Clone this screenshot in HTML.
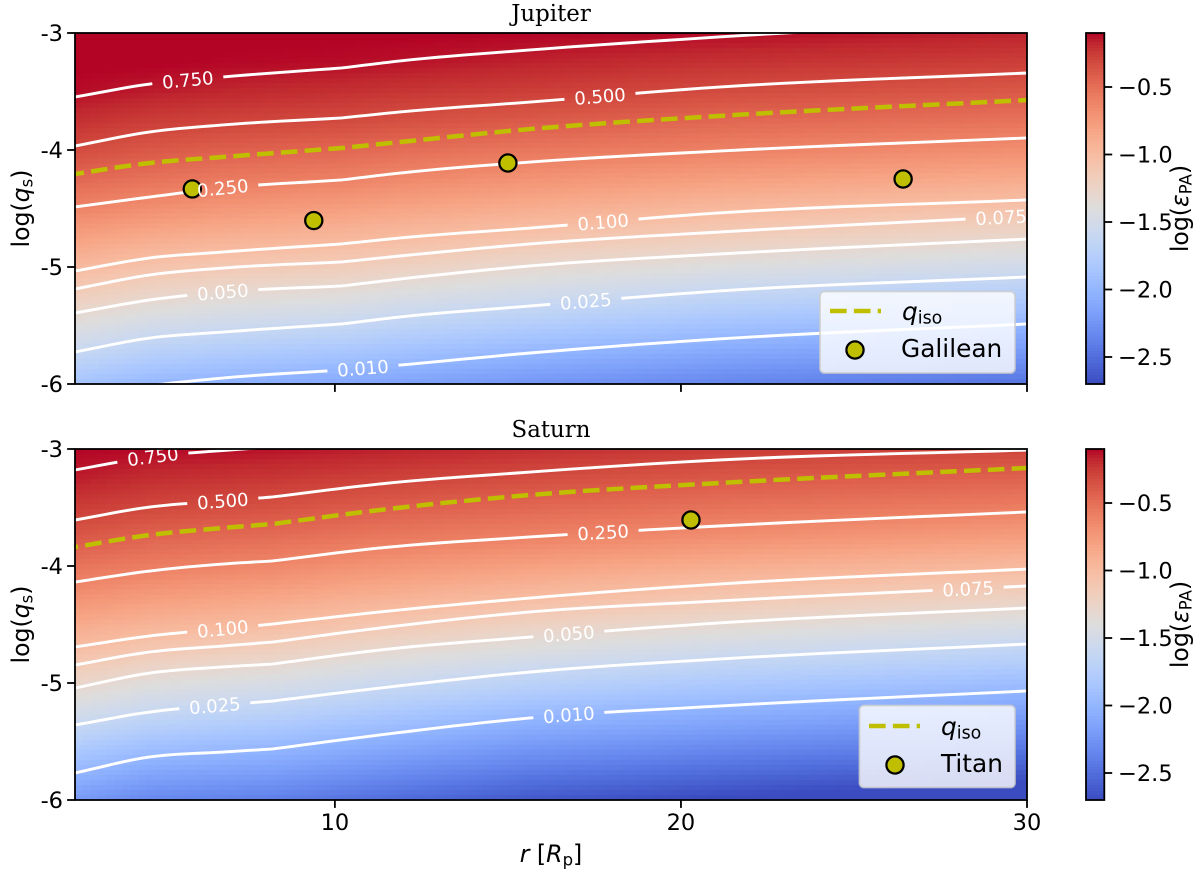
<!DOCTYPE html>
<html lang="en">
<head>
<meta charset="utf-8">
<title>Jupiter and Saturn epsilon PA maps</title>
<style>
html,body{margin:0;padding:0;background:#fff;}
svg{display:block;}
text{font-family:"DejaVu Sans","Liberation Sans",sans-serif;fill:#000;}
.ttl{font-family:"DejaVu Serif","Liberation Serif",serif;font-size:22.9px;text-anchor:middle;}
.ax{font-size:23.6px;text-anchor:middle;}
.leg{font-size:24.8px;}
</style>
</head>
<body>
<svg id="figure" xmlns="http://www.w3.org/2000/svg" width="1200" height="870" viewBox="0 0 1200 870">
  <defs>
    <clipPath id="clip-jupiter"><rect x="75" y="33" width="952" height="351"/></clipPath>
    <clipPath id="clip-saturn"><rect x="75" y="449" width="952" height="351"/></clipPath>
  </defs>
  <rect x="0" y="0" width="1200" height="870" fill="#fff"/>
  <g id="panel-jupiter"></g>
  <g id="panel-saturn"></g>

  <text class="ttl" x="551" y="21">Jupiter</text>
  <text class="ttl" x="551" y="437">Saturn</text>

  <text class="ax" transform="translate(29 208.5) rotate(-90)">log(<tspan font-style="italic">q</tspan><tspan font-size="16.5" dy="3.5">s</tspan><tspan dy="-3.5">)</tspan></text>
  <text class="ax" transform="translate(29 624.5) rotate(-90)">log(<tspan font-style="italic">q</tspan><tspan font-size="16.5" dy="3.5">s</tspan><tspan dy="-3.5">)</tspan></text>
  <text class="ax" x="551" y="862"><tspan font-style="italic">r</tspan> [<tspan font-style="italic">R</tspan><tspan font-size="16.5" dy="3.5">p</tspan><tspan dy="-3.5">]</tspan></text>
  <text class="ax" transform="translate(1188 208.5) rotate(-90)">log(<tspan font-style="italic">ε</tspan><tspan font-size="16.5" dy="3.5">PA</tspan><tspan dy="-3.5">)</tspan></text>
  <text class="ax" transform="translate(1188 624.5) rotate(-90)">log(<tspan font-style="italic">ε</tspan><tspan font-size="16.5" dy="3.5">PA</tspan><tspan dy="-3.5">)</tspan></text>

  <g>
    <rect x="820" y="291.5" width="195" height="81.5" rx="4.5" fill="#fff" fill-opacity="0.8" stroke="#ccc" stroke-opacity="0.8" stroke-width="1.8"/>
    <line x1="830" y1="311" x2="881" y2="311" stroke="#bfbf00" stroke-width="4.5" stroke-dasharray="16.65 7.2"/>
    <text class="leg" x="902" y="320"><tspan font-style="italic">q</tspan><tspan font-size="17.4" dy="3.6">iso</tspan></text>
    <circle cx="855" cy="350" r="8.6" fill="#bfbf00" stroke="#000" stroke-width="2.25"/>
    <text class="leg" x="901" y="357">Galilean</text>
  </g>
  <g>
    <rect x="859.5" y="705.5" width="155.5" height="82" rx="4.5" fill="#fff" fill-opacity="0.8" stroke="#ccc" stroke-opacity="0.8" stroke-width="1.8"/>
    <line x1="869" y1="726" x2="920" y2="726" stroke="#bfbf00" stroke-width="4.5" stroke-dasharray="16.65 7.2"/>
    <text class="leg" x="941" y="735"><tspan font-style="italic">q</tspan><tspan font-size="17.4" dy="3.6">iso</tspan></text>
    <circle cx="895" cy="765" r="8.6" fill="#bfbf00" stroke="#000" stroke-width="2.25"/>
    <text class="leg" x="941" y="772">Titan</text>
  </g>
</svg>

<script>
/* ---------- shared axis values ---------- */
const xTicks = [10, 20, 30];
const xTickLabels = ['10', '20', '30'];
const yTicks = [-3, -4, -5, -6];
const yTickLabels = ['-3', '-4', '-5', '-6'];
const cbarTicks = [-0.5, -1.0, -1.5, -2.0, -2.5];
const cbarTickLabels = ['\u22120.5', '\u22121.0', '\u22121.5', '\u22122.0', '\u22122.5'];
const contourLevels = ['0.750', '0.500', '0.250', '0.100', '0.075', '0.050', '0.025', '0.010'];
const heatLogq = [-3, -3.25, -3.5, -3.75, -4, -4.25, -4.5, -4.75, -5, -5.25, -5.5, -5.75, -6];

/* ---------- Jupiter series ---------- */
const jupiterR = [2.49, 4.65, 6.76, 10.2, 11.88, 15.64, 21.1, 30];
const jupiterC750 = [-3.547, -3.436, -3.376, -3.299, -3.239, -3.145, -3.034, -2.889];
const jupiterC500 = [-3.966, -3.846, -3.786, -3.726, -3.675, -3.590, -3.462, -3.342];
const jupiterC250 = [-4.487, -4.402, -4.325, -4.256, -4.197, -4.103, -4.009, -3.897];
const jupiterC100 = [-5.034, -4.923, -4.872, -4.803, -4.752, -4.667, -4.538, -4.427];
const jupiterC075 = [-5.188, -5.068, -5.009, -4.957, -4.906, -4.803, -4.701, -4.564];
const jupiterC050 = [-5.393, -5.282, -5.214, -5.162, -5.103, -4.991, -4.889, -4.761];
const jupiterC025 = [-5.726, -5.607, -5.556, -5.487, -5.427, -5.333, -5.205, -5.085];
const jupiterC010 = [-6.137, -6.017, -5.949, -5.880, -5.838, -5.735, -5.615, -5.487];
const jupiterQiso = [-4.205, -4.111, -4.060, -3.983, -3.932, -3.821, -3.709, -3.573];
const jupiterLabelR = [5.75, 17.66, 6.76, 17.75, 29.25, 6.76, 17.25, 10.81];
const jupiterMoonR = [5.88, 9.39, 15.0, 26.42];
const jupiterMoonLogq = [-4.333, -4.603, -4.111, -4.248];
/* one row per r value, each listing log(eps) at the heatLogq positions */
const jupiterHeat = [
  [-0.09, -0.09, -0.115, -0.210, -0.321, -0.465, -0.612, -0.793, -0.975, -1.178, -1.398, -1.625, -1.867],
  [-0.09, -0.09, -0.152, -0.260, -0.384, -0.520, -0.677, -0.868, -1.066, -1.275, -1.503, -1.741, -1.983],
  [-0.09, -0.106, -0.178, -0.286, -0.421, -0.560, -0.729, -0.911, -1.117, -1.333, -1.553, -1.799, -2.046],
  [-0.09, -0.118, -0.208, -0.315, -0.457, -0.599, -0.780, -0.961, -1.162, -1.383, -1.615, -1.868, -2.108],
  [-0.09, -0.129, -0.230, -0.344, -0.488, -0.640, -0.819, -0.998, -1.209, -1.438, -1.673, -1.915, -2.146],
  [-0.10, -0.167, -0.265, -0.395, -0.542, -0.706, -0.882, -1.076, -1.309, -1.529, -1.767, -2.014, -2.239],
  [-0.115, -0.214, -0.322, -0.460, -0.597, -0.783, -0.971, -1.171, -1.407, -1.646, -1.889, -2.122, -2.347],
  [-0.168, -0.265, -0.387, -0.522, -0.679, -0.867, -1.067, -1.291, -1.523, -1.765, -2.012, -2.237, -2.462]
];

/* ---------- Saturn series ---------- */
const saturnR = [2.49, 4.65, 6.76, 8.2, 11.3, 15.64, 21.1, 30];
const saturnC750 = [-3.179, -3.068, -3.013, -2.983, -2.923, -2.838, -2.752, -2.667];
const saturnC500 = [-3.607, -3.496, -3.444, -3.410, -3.299, -3.197, -3.094, -3.009];
const saturnC250 = [-4.137, -4.043, -3.983, -3.957, -3.846, -3.752, -3.658, -3.538];
const saturnC100 = [-4.692, -4.598, -4.538, -4.496, -4.393, -4.274, -4.154, -4.026];
const saturnC075 = [-4.846, -4.735, -4.684, -4.650, -4.530, -4.393, -4.299, -4.171];
const saturnC050 = [-5.043, -4.915, -4.863, -4.838, -4.718, -4.607, -4.487, -4.359];
const saturnC025 = [-5.359, -5.248, -5.188, -5.154, -5.043, -4.906, -4.795, -4.667];
const saturnC010 = [-5.769, -5.632, -5.590, -5.564, -5.444, -5.299, -5.197, -5.068];
const saturnQiso = [-3.838, -3.735, -3.675, -3.641, -3.521, -3.393, -3.291, -3.162];
const saturnLabelR = [4.74, 6.76, 17.75, 6.76, 28.3, 16.76, 6.53, 16.76];
const saturnMoonR = [20.29];
const saturnMoonLogq = [-3.607];
const saturnHeat = [
  [-0.10, -0.154, -0.257, -0.382, -0.524, -0.683, -0.862, -1.047, -1.263, -1.498, -1.739, -1.982, -2.208],
  [-0.11, -0.200, -0.303, -0.441, -0.578, -0.750, -0.930, -1.140, -1.378, -1.604, -1.863, -2.106, -2.331],
  [-0.12, -0.222, -0.332, -0.472, -0.614, -0.793, -0.973, -1.190, -1.428, -1.663, -1.911, -2.144, -2.369],
  [-0.132, -0.235, -0.351, -0.488, -0.634, -0.818, -1.003, -1.219, -1.455, -1.695, -1.938, -2.167, -2.392],
  [-0.161, -0.278, -0.411, -0.549, -0.714, -0.896, -1.098, -1.331, -1.562, -1.807, -2.05, -2.275, -2.50],
  [-0.204, -0.330, -0.465, -0.601, -0.791, -0.982, -1.213, -1.445, -1.697, -1.950, -2.181, -2.406, -2.631],
  [-0.253, -0.384, -0.518, -0.676, -0.877, -1.083, -1.314, -1.558, -1.805, -2.048, -2.273, -2.498, -2.723],
  [-0.296, -0.438, -0.581, -0.775, -0.979, -1.199, -1.439, -1.684, -1.932, -2.164, -2.389, -2.614, -2.84]
];

/* ---------- coolwarm colormap ---------- */
const coolwarm = [
  [59,76,192],[68,90,204],[77,104,215],[87,117,225],[98,130,234],[108,142,241],[119,154,247],[130,165,251],
  [141,176,254],[152,185,255],[163,194,255],[174,201,253],[184,208,249],[194,213,244],[204,217,238],[213,219,230],
  [221,221,221],[229,216,209],[236,211,197],[241,204,185],[245,196,173],[247,187,160],[247,177,148],[247,166,135],
  [244,154,123],[241,141,111],[236,127,99],[229,112,88],[222,96,77],[213,80,66],[203,62,56],[192,40,47],[180,4,38]
];
const colorMin = -2.7;
const colorMax = -0.1;

function colorOf(v) {
  var t = (v - colorMin) / (colorMax - colorMin);
  t = Math.max(0, Math.min(1, t)) * (coolwarm.length - 1);
  var i = Math.min(coolwarm.length - 2, Math.floor(t));
  var f = t - i;
  var a = coolwarm[i], b = coolwarm[i + 1];
  return 'rgb(' + Math.round(a[0] + (b[0] - a[0]) * f) + ',' +
    Math.round(a[1] + (b[1] - a[1]) * f) + ',' +
    Math.round(a[2] + (b[2] - a[2]) * f) + ')';
}

/* ---------- axis functions ---------- */
const plotLeft = 75, plotWidth = 952, plotHeight = 351;
const rMin = 2.49, rMax = 30, qMin = -6, qMax = -3;
function xScale(r) { return plotLeft + (r - rMin) / (rMax - rMin) * plotWidth; }
function xInvert(x) { return rMin + (x - plotLeft) / plotWidth * (rMax - rMin); }
function yScale(q, top) { return top + (qMax - q) / (qMax - qMin) * plotHeight; }
function yInvert(y, top) { return qMax - (y - top) / plotHeight * (qMax - qMin); }
function cbarScale(v, top) { return top + (colorMax - v) / (colorMax - colorMin) * plotHeight; }

function svgEl(tag, attrs, parent) {
  var el = document.createElementNS('http://www.w3.org/2000/svg', tag);
  for (var k in attrs) el.setAttribute(k, attrs[k]);
  parent.appendChild(el);
  return el;
}

function bracket(arr, v) {
  var i = 0;
  while (i < arr.length - 2 && v > arr[i + 1]) i++;
  return i;
}

/* Hermite smoothing through the read values; the knot at index 3 stays a real kink */
function smoothCurve(rs, qs, top) {
  var px = rs.map(function (r) { return xScale(r); });
  var py = qs.map(function (q) { return yScale(q, top); });
  var n = px.length, out = [];
  var h = [], d = [];
  for (var i = 0; i < n - 1; i++) {
    h.push(px[i + 1] - px[i]);
    d.push((py[i + 1] - py[i]) / h[i]);
  }
  function slope(i) {
    if (i === 0) return d[0];
    if (i === n - 1) return d[n - 2];
    return (d[i - 1] * h[i] + d[i] * h[i - 1]) / (h[i] + h[i - 1]);
  }
  for (var s = 0; s < n - 1; s++) {
    var m0 = s === 3 ? d[3] : slope(s);
    var m1 = s === 2 ? d[2] : slope(s + 1);
    for (var k = 0; k < 10; k++) {
      var t = k / 10, t2 = t * t, t3 = t2 * t;
      out.push([
        px[s] + t * h[s],
        (2 * t3 - 3 * t2 + 1) * py[s] + (t3 - 2 * t2 + t) * h[s] * m0 +
        (-2 * t3 + 3 * t2) * py[s + 1] + (t3 - t2) * h[s] * m1
      ]);
    }
  }
  out.push([px[n - 1], py[n - 1]]);
  return out;
}

function fieldAt(matrix, rs, r, q) {
  var ci = bracket(rs, r);
  var cf = Math.max(0, Math.min(1, (r - rs[ci]) / (rs[ci + 1] - rs[ci])));
  var qPos = Math.max(0, Math.min(heatLogq.length - 1.0001, (qMax - q) / 0.25));
  var ri = Math.floor(qPos);
  var rf = qPos - ri;
  var a = matrix[ci][ri] + (matrix[ci][ri + 1] - matrix[ci][ri]) * rf;
  var b = matrix[ci + 1][ri] + (matrix[ci + 1][ri + 1] - matrix[ci + 1][ri]) * rf;
  return a + (b - a) * cf;
}

function lineAt(pts, x) {
  var i = 0;
  while (i < pts.length - 2 && x > pts[i + 1][0]) i++;
  var f = (x - pts[i][0]) / (pts[i + 1][0] - pts[i][0]);
  return pts[i][1] + (pts[i + 1][1] - pts[i][1]) * f;
}

function toPath(pts) {
  return pts.map(function (p, i) {
    return (i ? 'L' : 'M') + p[0].toFixed(2) + ' ' + p[1].toFixed(2);
  }).join('');
}

function drawPanel(cfg) {
  var root = document.getElementById(cfg.id);
  var top = cfg.top;
  var clipped = svgEl('g', { 'clip-path': 'url(#' + cfg.clip + ')' }, root);

  /* heatmap */
  var heat = svgEl('g', {}, clipped);
  
  
  var nx = 119, ny = 70;
  var cw = plotWidth / nx, ch = plotHeight / ny;
  for (var i = 0; i < nx; i++) {
    for (var j = 0; j < ny; j++) {
      var cx = plotLeft + (i + 0.5) * cw;
      var cy = top + (j + 0.5) * ch;
      var val = fieldAt(cfg.heat, cfg.rs, xInvert(cx), yInvert(cy, top));
      var cell = svgEl('rect', {
        x: (plotLeft + i * cw).toFixed(2), y: (top + j * ch).toFixed(2),
        width: (cw + 0.7).toFixed(2), height: (ch + 0.7).toFixed(2),
        fill: colorOf(val)
      }, heat);
      
      
    }
  }

  /* contours */
  var halfGap = 35.5;
  var labelJobs = [];
  cfg.contours.forEach(function (series, n) {
    var pts = smoothCurve(cfg.rs, series, top);
    var lx = xScale(cfg.labelR[n]);
    var g0 = lx - halfGap, g1 = lx + halfGap;
    var left = pts.filter(function (p) { return p[0] < g0; });
    left.push([g0, lineAt(pts, g0)]);
    var right = pts.filter(function (p) { return p[0] > g1; });
    if (g1 < pts[pts.length - 1][0]) right.unshift([g1, lineAt(pts, g1)]);
    [left, right].forEach(function (seg) {
      if (seg.length < 2) return;
      var path = svgEl('path', {
        d: toPath(seg), fill: 'none', stroke: '#fff', 'stroke-width': 2.9
      }, clipped);
      
      
    });
    var gEnd = Math.min(g1, pts[pts.length - 1][0]);
    var y0 = lineAt(pts, g0), y1 = lineAt(pts, gEnd);
    var ang = Math.atan2(y1 - y0, gEnd - g0) * 180 / Math.PI;
    labelJobs.push({ text: contourLevels[n], x: lx, y: lineAt(pts, lx), ang: ang });
  });

  /* q_iso line */
  var iso = svgEl('path', {
    d: toPath(smoothCurve(cfg.rs, cfg.qiso, top)),
    fill: 'none', stroke: '#bfbf00', 'stroke-width': 4.5,
    'stroke-dasharray': '16.65 7.2', 'stroke-dashoffset': cfg.dashOffset
  }, clipped);
  
  

  /* moons */
  cfg.moonR.forEach(function (r, k) {
    var dot = svgEl('circle', {
      cx: xScale(r).toFixed(2), cy: yScale(cfg.moonQ[k], top).toFixed(2), r: 8.6,
      fill: '#bfbf00', stroke: '#000', 'stroke-width': 2.25
    }, root);
    
    
  });

  /* contour labels */
  labelJobs.forEach(function (job) {
    var t = svgEl('text', {
      transform: 'translate(' + job.x.toFixed(2) + ' ' + job.y.toFixed(2) + ') rotate(' + job.ang.toFixed(2) + ')',
      'font-size': 18, 'text-anchor': 'middle', dy: '0.36em', style: 'fill:#fff'
    }, root);
    t.textContent = job.text;
    
    
  });

  /* frame */
  var frame = svgEl('rect', {
    x: plotLeft, y: top, width: plotWidth, height: plotHeight,
    fill: 'none', stroke: '#000', 'stroke-width': 1.8
  }, root);
  
  

  /* x ticks */
  xTicks.forEach(function (v, k) {
    var tick = svgEl('line', {
      x1: xScale(v), x2: xScale(v), y1: top + plotHeight, y2: top + plotHeight + 7.9,
      stroke: '#000', 'stroke-width': 1.8
    }, root);
    
    
    if (cfg.xLabels) {
      var lab = svgEl('text', {
        x: xScale(v), y: top + plotHeight + 30, 'font-size': 22.5, 'text-anchor': 'middle'
      }, root);
      lab.textContent = xTickLabels[k];
      
      
    }
  });

  /* y ticks */
  yTicks.forEach(function (v, k) {
    var tick = svgEl('line', {
      x1: plotLeft - 7.9, x2: plotLeft, y1: yScale(v, top), y2: yScale(v, top),
      stroke: '#000', 'stroke-width': 1.8
    }, root);
    
    
    var lab = svgEl('text', {
      x: 63, y: yScale(v, top) + 8.2, 'font-size': 22.5, 'text-anchor': 'end'
    }, root);
    lab.textContent = yTickLabels[k];
    
    
  });

  /* colorbar */
  var cbarLeft = 1086, cbarWidth = 18.3;
  var bar = svgEl('g', {}, root);
  
  
  var steps = 117;
  for (var s = 0; s < steps; s++) {
    var vv = colorMax - (s + 0.5) / steps * (colorMax - colorMin);
    var sw = svgEl('rect', {
      x: cbarLeft, y: (top + s * plotHeight / steps).toFixed(2), width: cbarWidth,
      height: (plotHeight / steps + 0.6).toFixed(2), fill: colorOf(vv)
    }, bar);
    
    
  }
  var outline = svgEl('rect', {
    x: cbarLeft, y: top, width: cbarWidth, height: plotHeight,
    fill: 'none', stroke: '#000', 'stroke-width': 1.8
  }, root);
  
  
  cbarTicks.forEach(function (v, k) {
    var y = cbarScale(v, top);
    var tick = svgEl('line', {
      x1: cbarLeft + cbarWidth, x2: cbarLeft + cbarWidth + 7.9, y1: y, y2: y,
      stroke: '#000', 'stroke-width': 1.8
    }, root);
    
    
    var lab = svgEl('text', { x: 1118, y: y + 8.2, 'font-size': 22.5 }, root);
    lab.textContent = cbarTickLabels[k];
    
    
  });
}

drawPanel({
  id: 'panel-jupiter', name: 'jupiter', clip: 'clip-jupiter', top: 33, rs: jupiterR, heat: jupiterHeat,
  contours: [jupiterC750, jupiterC500, jupiterC250, jupiterC100, jupiterC075, jupiterC050, jupiterC025, jupiterC010],
  labelR: jupiterLabelR, qiso: jupiterQiso, dashOffset: 7.6,
  moonR: jupiterMoonR, moonQ: jupiterMoonLogq, xLabels: false
});
drawPanel({
  id: 'panel-saturn', name: 'saturn', clip: 'clip-saturn', top: 449, rs: saturnR, heat: saturnHeat,
  contours: [saturnC750, saturnC500, saturnC250, saturnC100, saturnC075, saturnC050, saturnC025, saturnC010],
  labelR: saturnLabelR, qiso: saturnQiso, dashOffset: 13.5,
  moonR: saturnMoonR, moonQ: saturnMoonLogq, xLabels: true
});
</script>
</body>
</html>
